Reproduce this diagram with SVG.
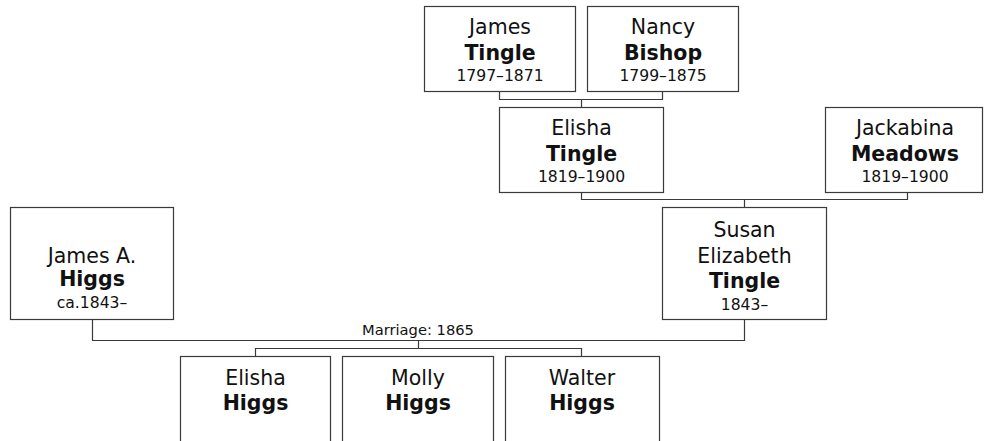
<svg xmlns="http://www.w3.org/2000/svg" width="984" height="441" viewBox="0 0 984 441">
<style>
.box{fill:#fff;stroke:#3a3a3a;stroke-width:1.2}
.con{fill:none;stroke:#3a3a3a;stroke-width:1.2}
text{font-family:"DejaVu Sans",Verdana,sans-serif;text-anchor:middle;fill:#111}
.n{font-size:20.5px}
.s{font-size:20.5px;font-weight:bold}
.d{font-size:15.6px}
.m{font-size:14.7px}
</style>
<rect width="984" height="441" fill="#fff"/>
<g id="connectors">
<path class="con" d="M499.5 91 V99.5 H662.5 V91 M581.5 99.5 V107"/>
<path class="con" d="M581.5 192 V199.5 H907.5 V192 M744.5 199.5 V207"/>
<path class="con" d="M92.5 319 V340.5 H744.5 V319"/>
<path class="con" d="M418.5 340.5 V348.5 M255.5 356 V348.5 H581.5 V356"/>
<text class="m" x="418" y="335">Marriage: 1865</text>
</g>
<g id="james-tingle">
<rect class="box" x="424.5" y="6.5" width="151" height="85"/>
<text class="n" x="500" y="34">James</text>
<text class="s" x="500" y="60">Tingle</text>
<text class="d" x="500" y="81">1797–1871</text>
</g>
<g id="nancy-bishop">
<rect class="box" x="587.5" y="6.5" width="151" height="85"/>
<text class="n" x="663" y="34">Nancy</text>
<text class="s" x="663" y="60">Bishop</text>
<text class="d" x="663" y="81">1799–1875</text>
</g>
<g id="elisha-tingle">
<rect class="box" x="499.5" y="107.5" width="164" height="85"/>
<text class="n" x="581.5" y="135">Elisha</text>
<text class="s" x="581.5" y="161">Tingle</text>
<text class="d" x="581.5" y="182">1819–1900</text>
</g>
<g id="jackabina-meadows">
<rect class="box" x="825.5" y="107.5" width="157" height="85"/>
<text class="n" x="905" y="135">Jackabina</text>
<text class="s" x="905" y="161">Meadows</text>
<text class="d" x="905" y="182">1819–1900</text>
</g>
<g id="susan-tingle">
<rect class="box" x="662.5" y="207.5" width="164" height="112"/>
<text class="n" x="744.5" y="237">Susan</text>
<text class="n" x="744.5" y="263">Elizabeth</text>
<text class="s" x="744.5" y="288">Tingle</text>
<text class="d" x="744.5" y="310">1843–</text>
</g>
<g id="james-higgs">
<rect class="box" x="10.5" y="207.5" width="163" height="112"/>
<text class="n" x="92" y="263">James A.</text>
<text class="s" x="92" y="286">Higgs</text>
<text class="d" x="92" y="308">ca.1843–</text>
</g>
<g id="elisha-higgs">
<rect class="box" x="180.5" y="356.5" width="150" height="100"/>
<text class="n" x="255.5" y="385">Elisha</text>
<text class="s" x="255.5" y="410">Higgs</text>
</g>
<g id="molly-higgs">
<rect class="box" x="342.5" y="356.5" width="151" height="100"/>
<text class="n" x="418" y="385">Molly</text>
<text class="s" x="418" y="410">Higgs</text>
</g>
<g id="walter-higgs">
<rect class="box" x="505.5" y="356.5" width="154" height="100"/>
<text class="n" x="582" y="385">Walter</text>
<text class="s" x="582" y="410">Higgs</text>
</g>
</svg>
